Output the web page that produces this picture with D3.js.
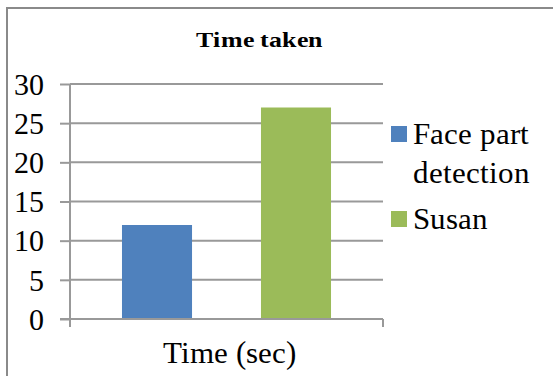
<!DOCTYPE html>
<html><head><meta charset="utf-8">
<script src="https://cdn.jsdelivr.net/npm/d3@7"></script>
<style>
@font-face{font-family:"ChartSerif";src:local("Liberation Serif"),local("LiberationSerif");font-weight:normal}
@font-face{font-family:"ChartSerif";src:local("Liberation Serif Bold"),local("LiberationSerif-Bold");font-weight:bold}
body{margin:0;background:#fff}
svg{display:block}
svg text{font-family:"ChartSerif","Liberation Serif","Times New Roman",Times,serif}
</style>
</head><body>
<svg id="c" width="553" height="376"></svg>
<script>
const title = "Time taken";
const categories = ["Time (sec)"];
const seriesNames = ["Face part detection", "Susan"];
const seriesValues = [12, 27];
const seriesColors = ["#4F81BD", "#9BBB59"];
const yTicks = [0, 5, 10, 15, 20, 25, 30];
const FONT = '"ChartSerif", "Liberation Serif", "Times New Roman", Times, serif';

const svg = d3.select("#c");
const serif = (sel, size) => sel.style("font-family", FONT).style("font-size", size + "px");

svg.append("rect").attr("x", 7).attr("y", 8).attr("width", 600).attr("height", 400)
  .attr("fill", "none").attr("stroke", "#8a8a8a").attr("stroke-width", 2);

const L = 70, R = 383, T = 84, B = 319;
const y = d3.scaleLinear().domain([0, 30]).range([B, T]);
const x0 = d3.scaleBand().domain(categories).range([L, R]).padding(0);
const x1 = d3.scaleBand().domain(seriesNames).range([0, x0.bandwidth()]).paddingInner(0.496).paddingOuter(0.374);

const grid = "#999";
svg.append("g").selectAll("line").data(yTicks.filter(d => d > 0)).join("line")
  .attr("x1", L).attr("x2", R).attr("y1", d => y(d)).attr("y2", d => y(d))
  .attr("stroke", grid).attr("stroke-width", 2);

const ya = svg.append("g").attr("transform", `translate(${L},0)`)
  .call(d3.axisLeft(y).tickValues(yTicks).tickSize(10).tickPadding(16).tickSizeOuter(0));
ya.attr("font-family", null).attr("font-size", null);
ya.select(".domain").remove();
ya.selectAll(".tick line").attr("stroke", grid).attr("stroke-width", 2);
serif(ya.selectAll(".tick text"), 30).attr("dy", "0.34em").attr("fill", "#000");
svg.append("line").attr("x1", L).attr("x2", L).attr("y1", T).attr("y2", B + 8)
  .attr("stroke", grid).attr("stroke-width", 2);

svg.append("g").selectAll("rect").data(seriesValues).join("rect")
  .attr("x", (d, i) => x0(categories[0]) + x1(seriesNames[i]))
  .attr("width", x1.bandwidth())
  .attr("y", d => y(d)).attr("height", d => B - y(d))
  .attr("fill", (d, i) => seriesColors[i]);

svg.append("line").attr("x1", L - 10).attr("x2", R).attr("y1", B).attr("y2", B)
  .attr("stroke", grid).attr("stroke-width", 2);
[L, R].forEach(xx => svg.append("line").attr("x1", xx).attr("x2", xx).attr("y1", B).attr("y2", B + 8)
  .attr("stroke", grid).attr("stroke-width", 2));
serif(svg.append("text"), 31).attr("x", 229.5).attr("y", 363)
  .attr("text-anchor", "middle").text(categories[0]);

serif(svg.append("text"), 21).attr("x", 259.5).attr("y", 47).attr("text-anchor", "middle")
  .style("font-weight", "bold")
  .attr("textLength", 127).attr("lengthAdjust", "spacingAndGlyphs").text(title);

const leg = [
  {color: seriesColors[0], lines: ["Face part", "detection"], y: 126},
  {color: seriesColors[1], lines: ["Susan"], y: 211}
];
leg.forEach(l => {
  svg.append("rect").attr("x", 391).attr("y", l.y).attr("width", 16).attr("height", 16).attr("fill", l.color);
  l.lines.forEach((t, i) => serif(svg.append("text"), 31).attr("x", 413).attr("y", l.y + 18 + i * 39).text(t));
});
</script></body></html>
